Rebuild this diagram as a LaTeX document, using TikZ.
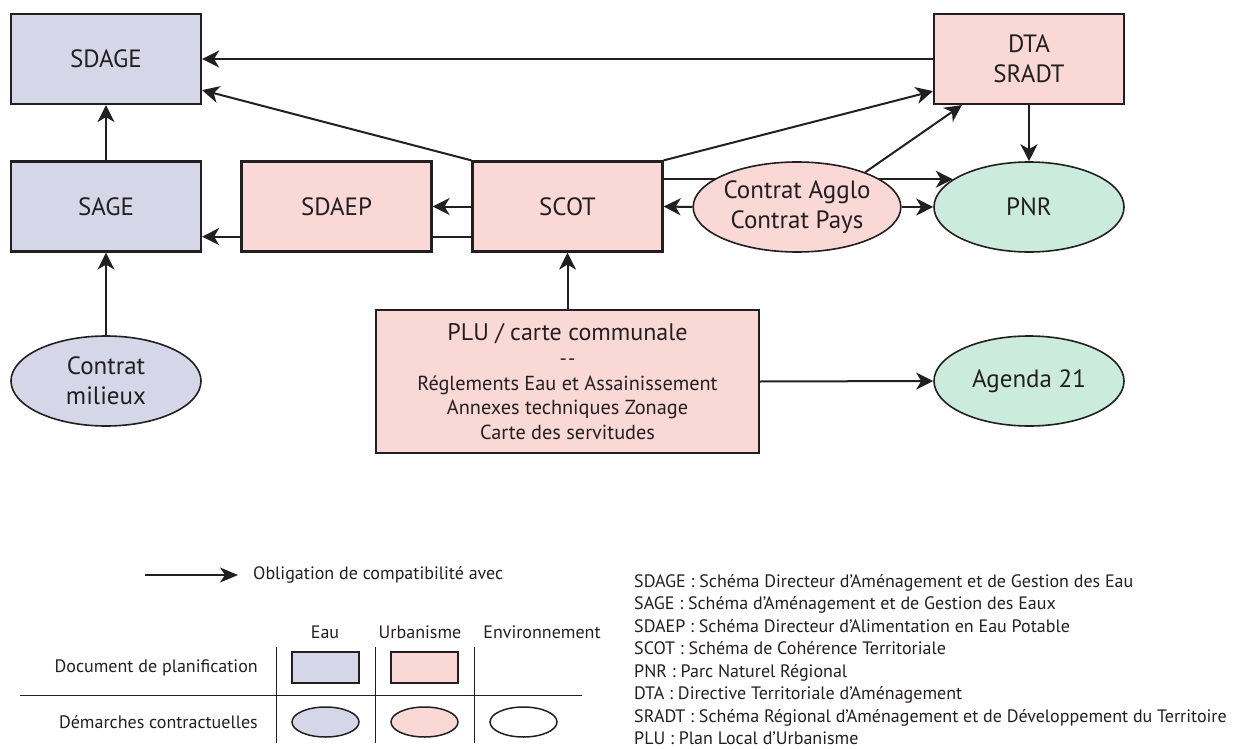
\documentclass[tikz,border=0pt]{standalone}
\usepackage{fontspec}
\setmainfont{PT Sans}
\usetikzlibrary{arrows.meta,backgrounds,shapes.geometric}
\definecolor{ink}{HTML}{231F20}
\definecolor{eau}{HTML}{D5D6E8}
\definecolor{urb}{HTML}{F9D8D6}
\definecolor{env}{HTML}{CBEBDC}
\begin{document}
\begin{tikzpicture}[x=1pt,y=-1pt,
  every node/.style={text=ink},
  bigfont/.style={font=\fontsize{25}{30}\selectfont},
  lfont/.style={font=\fontsize{18}{22}\selectfont, inner sep=0pt},
  box/.style={draw=ink, line width=2.2pt, rectangle, minimum width=190pt, minimum height=90pt, inner sep=0pt, align=center, bigfont},
  eaubox/.style={box, fill=eau},
  urbbox/.style={box, fill=urb},
  oval/.style={draw=ink, line width=1.6pt, ellipse, minimum width=190pt, minimum height=90pt, inner sep=0pt, align=center, bigfont},
  eauoval/.style={oval, fill=eau},
  urboval/.style={oval, fill=urb},
  envoval/.style={oval, fill=env},
  arr/.style={draw=ink, line width=2pt, -{Stealth[length=17pt,width=17pt,inset=5pt]}},
  legarr/.style={draw=ink, line width=1.5pt, -{Stealth[length=18pt,width=15pt,inset=5pt]}},
  grid/.style={draw=ink, line width=1pt},
  legbox/.style={draw=ink, line width=1.5pt, rectangle, minimum width=67pt, minimum height=31pt, inner sep=0pt},
  legoval/.style={draw=ink, line width=1.5pt, ellipse, minimum width=67pt, minimum height=30pt, inner sep=0pt}
]
\useasboundingbox (0,0) rectangle (1239,749);

% main nodes
\node[eaubox] (SDAGE) at (106,59) {SDAGE};
\node[eaubox] (SAGE) at (106,206.5) {SAGE};
\node[urbbox] (SDAEP) at (336.5,206.5) {SDAEP};
\node[urbbox] (SCOT) at (567.5,206.5) {SCOT};
\node[urbbox] (DTA) at (1029,59) {DTA\\SRADT};
\node[urboval, minimum width=188pt] (CA) at (797,207) {Contrat Agglo\\Contrat Pays};
\node[envoval] (PNR) at (1029,207) {PNR};
\node[urbbox, minimum width=383pt, minimum height=143pt, font=\fontsize{20.3}{24.5}\selectfont] (PLU) at (567.5,381.5)
  {{\fontsize{24}{29}\selectfont PLU / carte communale}\\[1pt]
   -\kern1pt-\\
   Réglements Eau et Assainissement\\
   Annexes techniques Zonage\\
   Carte des servitudes};
\node[eauoval] (CM) at (106,381) {Contrat\\milieux};
\node[envoval] (A21) at (1029,381) {Agenda 21};

% connectors
\draw[arr] (DTA.west) -- (SDAGE.east);
\draw[arr] (SCOT.north west) -- ([yshift=15pt]SDAGE.south east);
\draw[arr] (SCOT.north east) -- ([yshift=14pt]DTA.south west);
\draw[arr] (SAGE.north) -- (SDAGE.south);
\draw[arr] (SCOT.west) -- (SDAEP.east);
\draw[arr] (CM.north) -- (SAGE.south);
\draw[arr] (PLU.north) -- (SCOT.south);
\draw[arr] (PLU.east) -- (A21.west);
\draw[arr] (CA.west) -- (SCOT.east);
\draw[arr] (CA.east) -- (PNR.west);
\draw[arr] (CA.27) -- ([xshift=29pt]DTA.south west);
\draw[arr] (DTA.south) -- (PNR.north);
\begin{scope}[on background layer]
  \draw[arr] ([yshift=16pt]SCOT.south west) -- ([yshift=16pt]SAGE.south east);
  \draw[arr] (SCOT.east |- PNR.160) -- (PNR.160);
\end{scope}

% legend
\coordinate (oa) at (145,575);
\coordinate (ob) at (238,575);
\draw[legarr] (oa) -- (ob);
\node[lfont, anchor=west] (obl) at (253,575) {Obligation de compatibilité avec};

\node[lfont] (hEau) at (325,632) {Eau};
\node[lfont] (hUrb) at (420,632) {Urbanisme};
\node[lfont] (hEnv) at (542,632) {Environnement};

\draw[grid] (276,647) -- (276,743);
\draw[grid] (375,647) -- (375,743);
\draw[grid] (474,647) -- (474,743);
\draw[grid] (20,695) -- (582,695);

\node[lfont, anchor=east] (rDoc) at (258,668) {Document de planification};
\node[lfont, anchor=east] (rDem) at (258,722) {Démarches contractuelles};

\node[legbox, fill=eau] (lb1) at (325.5,667.5) {};
\node[legbox, fill=urb] (lb2) at (424.5,667.5) {};
\node[legoval, fill=eau] (lo1) at (325.5,722) {};
\node[legoval, fill=urb] (lo2) at (424.5,722) {};
\node[legoval, fill=white] (lo3) at (523.5,722) {};

% abbreviations
\node[lfont, anchor=base west] (ab1) at (634,587) {SDAGE : Schéma Directeur d’Aménagement et de Gestion des Eau};
\node[lfont, anchor=base west] (ab2) at (634,609.5) {SAGE : Schéma d’Aménagement et de Gestion des Eaux};
\node[lfont, anchor=base west] (ab3) at (634,632) {SDAEP : Schéma Directeur d’Alimentation en Eau Potable};
\node[lfont, anchor=base west] (ab4) at (634,654.5) {SCOT : Schéma de Cohérence Territoriale};
\node[lfont, anchor=base west] (ab5) at (634,677) {PNR : Parc Naturel Régional};
\node[lfont, anchor=base west] (ab6) at (634,699.5) {DTA : Directive Territoriale d’Aménagement};
\node[lfont, anchor=base west] (ab7) at (634,722) {SRADT : Schéma Régional d’Aménagement et de Développement du Territoire};
\node[lfont, anchor=base west] (ab8) at (634,744.5) {PLU : Plan Local d’Urbanisme};
\end{tikzpicture}
\end{document}
